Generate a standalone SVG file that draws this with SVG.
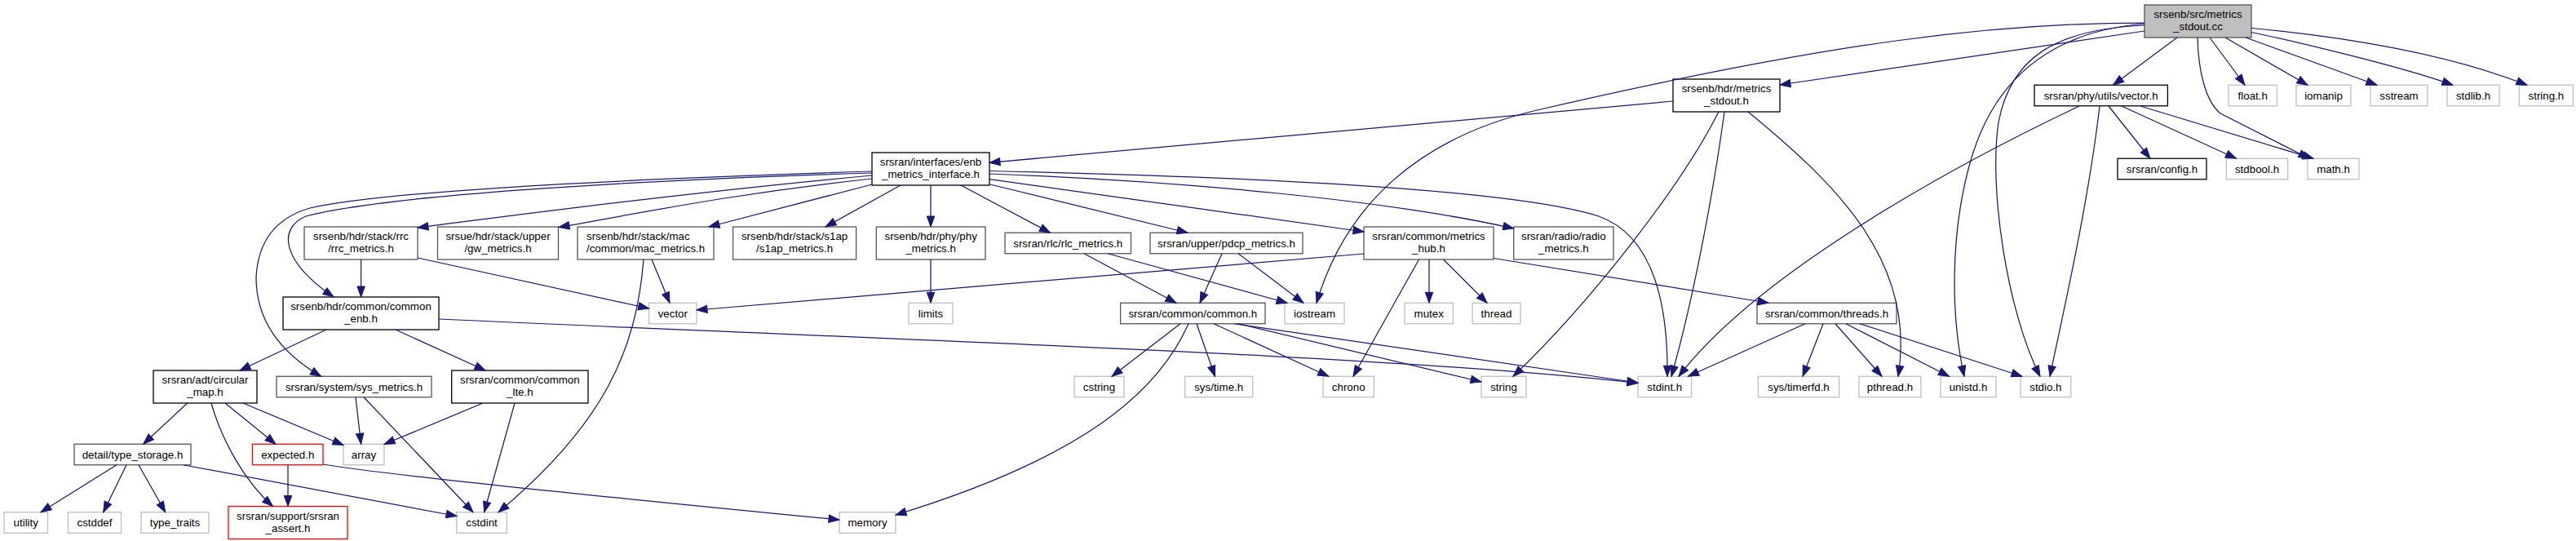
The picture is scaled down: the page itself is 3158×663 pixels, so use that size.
<svg xmlns="http://www.w3.org/2000/svg" width="3158" height="663" viewBox="0 0 3158 663">
<style>
rect{fill:#fff;stroke-width:1.3}
.k rect{stroke:#000}
.d rect{stroke:#555}
.x rect{stroke:#bfbfbf}
.r rect{stroke:#ff0000}
.m rect{fill:#bfbfbf;stroke:#555}
text{font-family:"Liberation Sans",Arial,Helvetica,sans-serif;font-size:13.33px;fill:#000;text-anchor:middle}
.l text{text-anchor:start}
#edges path{fill:none;stroke:#191970;stroke-width:1.25;marker-end:url(#a)}
</style>
<defs>
<marker id="a" markerUnits="userSpaceOnUse" markerWidth="14" markerHeight="10" refX="13" refY="4.7" orient="auto" style="overflow:visible">
<path d="M0,0 L13,4.7 L0,9.4 z" fill="#191970" stroke="#191970" stroke-width="1"/>
</marker>
</defs>
<rect x="0" y="0" width="3158" height="663" style="fill:#fff;stroke:none"/>

<g id="node-main" class="m"><rect x="2629" y="6" width="131" height="40"/><text x="2694.5" y="22">srsenb/src/metrics</text><text x="2694.5" y="37">_stdout.cc</text></g>
<g id="node-metrics_stdout_h" class="k"><rect x="2051" y="97" width="131" height="40"/><text x="2116.5" y="113">srsenb/hdr/metrics</text><text x="2116.5" y="128">_stdout.h</text></g>
<g id="node-vector_h" class="k"><rect x="2494" y="104.25" width="163.4" height="25.5"/><text x="2575.7" y="121.5">srsran/phy/utils/vector.h</text></g>
<g id="node-float_h" class="x"><rect x="2732" y="104.25" width="59.5" height="25.5"/><text x="2761.75" y="121.5">float.h</text></g>
<g id="node-iomanip" class="x"><rect x="2815" y="104.25" width="67" height="25.5"/><text x="2848.5" y="121.5">iomanip</text></g>
<g id="node-sstream" class="x"><rect x="2906" y="104.25" width="70" height="25.5"/><text x="2941" y="121.5">sstream</text></g>
<g id="node-stdlib_h" class="x"><rect x="3000" y="104.25" width="64" height="25.5"/><text x="3032" y="121.5">stdlib.h</text></g>
<g id="node-string_h" class="x"><rect x="3088.4" y="104.25" width="66" height="25.5"/><text x="3121.4" y="121.5">string.h</text></g>
<g id="node-config_h" class="k"><rect x="2596" y="194.25" width="109" height="25.5"/><text x="2650.5" y="211.5">srsran/config.h</text></g>
<g id="node-stdbool_h" class="x"><rect x="2729.3" y="194.25" width="75.4" height="25.5"/><text x="2767" y="211.5">stdbool.h</text></g>
<g id="node-math_h" class="x"><rect x="2829" y="194.25" width="63" height="25.5"/><text x="2860.5" y="211.5">math.h</text></g>
<g id="node-enb_metrics_interface" class="k"><rect x="1069" y="187" width="144" height="40"/><text x="1141" y="203">srsran/interfaces/enb</text><text x="1141" y="218">_metrics_interface.h</text></g>
<g id="node-rrc_metrics" class="d"><rect x="373" y="278" width="139" height="40"/><text x="442.5" y="294">srsenb/hdr/stack/rrc</text><text x="442.5" y="309">/rrc_metrics.h</text></g>
<g id="node-gw_metrics" class="d"><rect x="536.5" y="278" width="148" height="40"/><text x="610.5" y="294">srsue/hdr/stack/upper</text><text x="610.5" y="309">/gw_metrics.h</text></g>
<g id="node-mac_metrics" class="d l"><rect x="708" y="278" width="167" height="40"/><text x="719" y="294">srsenb/hdr/stack/mac</text><text x="719" y="309">/common/mac_metrics.h</text></g>
<g id="node-s1ap_metrics" class="d"><rect x="898.6" y="278" width="151" height="40"/><text x="974.1" y="294">srsenb/hdr/stack/s1ap</text><text x="974.1" y="309">/s1ap_metrics.h</text></g>
<g id="node-phy_metrics" class="d"><rect x="1074.3" y="278" width="133.7" height="40"/><text x="1141.15" y="294">srsenb/hdr/phy/phy</text><text x="1141.15" y="309">_metrics.h</text></g>
<g id="node-rlc_metrics" class="d"><rect x="1232" y="285.25" width="154.5" height="25.5"/><text x="1309.25" y="302.5">srsran/rlc/rlc_metrics.h</text></g>
<g id="node-pdcp_metrics" class="d"><rect x="1410" y="285.25" width="187" height="25.5"/><text x="1503.5" y="302.5">srsran/upper/pdcp_metrics.h</text></g>
<g id="node-metrics_hub" class="d"><rect x="1672" y="278" width="159" height="40"/><text x="1751.5" y="294">srsran/common/metrics</text><text x="1751.5" y="309">_hub.h</text></g>
<g id="node-radio_metrics" class="d"><rect x="1855.7" y="278" width="122.3" height="40"/><text x="1916.85" y="294">srsran/radio/radio</text><text x="1916.85" y="309">_metrics.h</text></g>
<g id="node-common_enb" class="k"><rect x="347" y="364" width="191" height="40"/><text x="442.5" y="380">srsenb/hdr/common/common</text><text x="442.5" y="395">_enb.h</text></g>
<g id="node-vector" class="x"><rect x="795.6" y="371.25" width="58.4" height="25.5"/><text x="824.8" y="388.5">vector</text></g>
<g id="node-limits" class="x"><rect x="1114" y="371.25" width="54" height="25.5"/><text x="1141" y="388.5">limits</text></g>
<g id="node-common_h" class="d"><rect x="1373.6" y="371.25" width="177.4" height="25.5"/><text x="1462.3" y="388.5">srsran/common/common.h</text></g>
<g id="node-iostream" class="x"><rect x="1575" y="371.25" width="73" height="25.5"/><text x="1611.5" y="388.5">iostream</text></g>
<g id="node-mutex" class="x"><rect x="1722" y="371.25" width="59.4" height="25.5"/><text x="1751.7" y="388.5">mutex</text></g>
<g id="node-thread" class="x"><rect x="1805" y="371.25" width="59" height="25.5"/><text x="1834.5" y="388.5">thread</text></g>
<g id="node-threads_h" class="d"><rect x="2154" y="371.25" width="171" height="25.5"/><text x="2239.5" y="388.5">srsran/common/threads.h</text></g>
<g id="node-circular_map" class="k"><rect x="188" y="454" width="127" height="40"/><text x="251.5" y="470">srsran/adt/circular</text><text x="251.5" y="485">_map.h</text></g>
<g id="node-sys_metrics" class="d"><rect x="339" y="461.25" width="190" height="25.5"/><text x="434" y="478.5">srsran/system/sys_metrics.h</text></g>
<g id="node-common_lte" class="k"><rect x="553.7" y="454" width="167.3" height="40"/><text x="637.35" y="470">srsran/common/common</text><text x="637.35" y="485">_lte.h</text></g>
<g id="node-cstring" class="x"><rect x="1317" y="461.25" width="61" height="25.5"/><text x="1347.5" y="478.5">cstring</text></g>
<g id="node-sys_time_h" class="x"><rect x="1452.7" y="461.25" width="83" height="25.5"/><text x="1494.2" y="478.5">sys/time.h</text></g>
<g id="node-chrono" class="x"><rect x="1622" y="461.25" width="62.4" height="25.5"/><text x="1653.2" y="478.5">chrono</text></g>
<g id="node-string" class="x"><rect x="1816" y="461.25" width="55" height="25.5"/><text x="1843.5" y="478.5">string</text></g>
<g id="node-stdint_h" class="x"><rect x="2008" y="461.25" width="65.6" height="25.5"/><text x="2040.8" y="478.5">stdint.h</text></g>
<g id="node-sys_timerfd_h" class="x"><rect x="2155.4" y="461.25" width="99.3" height="25.5"/><text x="2205" y="478.5">sys/timerfd.h</text></g>
<g id="node-pthread_h" class="x"><rect x="2279" y="461.25" width="76" height="25.5"/><text x="2317" y="478.5">pthread.h</text></g>
<g id="node-unistd_h" class="x"><rect x="2379" y="461.25" width="68" height="25.5"/><text x="2413" y="478.5">unistd.h</text></g>
<g id="node-stdio_h" class="x"><rect x="2477" y="461.25" width="61.8" height="25.5"/><text x="2507.9" y="478.5">stdio.h</text></g>
<g id="node-type_storage" class="d"><rect x="91" y="544.25" width="143" height="25.5"/><text x="162.5" y="561.5">detail/type_storage.h</text></g>
<g id="node-expected_h" class="r"><rect x="309.5" y="544.25" width="86.5" height="25.5"/><text x="352.75" y="561.5">expected.h</text></g>
<g id="node-array" class="x"><rect x="421" y="544.25" width="50" height="25.5"/><text x="446" y="561.5">array</text></g>
<g id="node-utility" class="x"><rect x="5" y="627.75" width="53.5" height="25.5"/><text x="31.75" y="645">utility</text></g>
<g id="node-cstddef" class="x"><rect x="83.5" y="627.75" width="65" height="25.5"/><text x="116" y="645">cstddef</text></g>
<g id="node-type_traits" class="x"><rect x="173" y="627.75" width="83" height="25.5"/><text x="214.5" y="645">type_traits</text></g>
<g id="node-srsran_assert" class="r"><rect x="280" y="620.5" width="146" height="40"/><text x="353" y="636.5">srsran/support/srsran</text><text x="353" y="651.5">_assert.h</text></g>
<g id="node-cstdint" class="x"><rect x="559.8" y="627.75" width="61.5" height="25.5"/><text x="590.5" y="645">cstdint</text></g>
<g id="node-memory" class="x"><rect x="1029" y="627.75" width="69" height="25.5"/><text x="1063.5" y="645">memory</text></g>

<g id="edges">
<path d="M2629,38 L2182,104"/>
<path d="M2629,28 C2450,28 2250,50 1880,136 C1740,170 1650,250 1614,371.25"/>
<path d="M2629,29 C2500,40 2440,110 2415,200 C2390,290 2392,390 2408,461.25"/>
<path d="M2629,31 C2520,36 2465,70 2450,150 C2438,230 2460,380 2501,461.25"/>
<path d="M2669,46 L2590.5,104.25"/>
<path d="M2709,46 L2752,104.25"/>
<path d="M2728,46 L2829,104.25"/>
<path d="M2753,46 L2914,104.25"/>
<path d="M2760,39.5 C2800,48 2940,80 3007,104.25"/>
<path d="M2760,34.5 C2860,44 2990,62 3098,104.25"/>
<path d="M2694,46 C2695,90 2705,125 2722,139 L2831,194.25"/>
<path d="M2585,130 L2636,194.25"/>
<path d="M2601,130 L2741.5,194.25"/>
<path d="M2624,130 L2836,194.25"/>
<path d="M2549,130 C2380,210 2150,340 2058,461.25"/>
<path d="M2574,130 C2560,250 2530,380 2513,461.25"/>
<path d="M2051,124 L1213,199.3"/>
<path d="M2107,137 C2060,230 1950,370 1855,461.25"/>
<path d="M2114,137 C2100,240 2075,370 2049,461.25"/>
<path d="M2143,137 C2250,225 2350,320 2327,461.25"/>
<path d="M1213,209.5 C1500,216 1850,230 1960,265 C2030,290 2045,380 2044,461.25"/>
<path d="M1213,213 C1450,222 1700,245 1855.7,280"/>
<path d="M1213,219.6 L1672,284"/>
<path d="M1214,226 L1456,285.25"/>
<path d="M1178,227 L1287.5,285.25"/>
<path d="M1141,227 L1141,278"/>
<path d="M1104,227 L1012,278"/>
<path d="M1069,226 L869,278"/>
<path d="M1069,219 C900,237 780,262 685,278.5"/>
<path d="M1069,215 C800,240 600,268 512,279"/>
<path d="M1069,212 C750,222 470,240 375,265 C340,280 345,320 409,364"/>
<path d="M1069,210 C750,220 470,235 380,255 C335,268 316,300 314,340 C314,390 340,430 393.6,461.25"/>
<path d="M442.6,318 L442.6,364"/>
<path d="M512,316 L795.6,378"/>
<path d="M799,318 L821,371.25"/>
<path d="M789,318 C780,430 740,520 611,627.75"/>
<path d="M1672,311 L854,380"/>
<path d="M1739.5,318 L1659,461.25"/>
<path d="M1752,318 L1752,371.25"/>
<path d="M1769.5,318 L1823,371.25"/>
<path d="M1831,316.5 L2168,371.25"/>
<path d="M400,404 L294,454"/>
<path d="M485,404 L595,454"/>
<path d="M538,391 C1100,417 1700,435 2008,469.5"/>
<path d="M229.7,494 L175.7,544.25"/>
<path d="M259,494 C272,540 300,590 334.5,620.5"/>
<path d="M276,494 L338,544.25"/>
<path d="M298,494 L421,545.5"/>
<path d="M436,486.75 L442.6,544.25"/>
<path d="M446,486.75 L580,627.75"/>
<path d="M592,494 L471,544.5"/>
<path d="M631,494 L593.6,627.75"/>
<path d="M143,569.75 L50,627.75"/>
<path d="M155,569.75 L126.7,627.75"/>
<path d="M170,569.75 L202.7,627.75"/>
<path d="M224.7,569.75 L560,632.5"/>
<path d="M353,569.75 L353,620.5"/>
<path d="M396,569 C460,580 700,605 1029,637"/>
<path d="M1141,318 L1141,371.25"/>
<path d="M1329,310.75 L1442,371.25"/>
<path d="M1358,310.75 L1578,371.25"/>
<path d="M1498,310.75 L1471,371.25"/>
<path d="M1518,310.75 L1598,371.25"/>
<path d="M1447,396.75 L1363,461.25"/>
<path d="M1457,396.75 C1420,480 1330,560 1098,631"/>
<path d="M1467,396.75 L1489.5,461.25"/>
<path d="M1488,396.75 L1628.7,461.25"/>
<path d="M1518,396.75 L1816,468"/>
<path d="M1513,396.75 L2008,469"/>
<path d="M2213,396.75 L2069.5,461.25"/>
<path d="M2235,396.75 L2210,461.25"/>
<path d="M2250,396.75 L2307,461.25"/>
<path d="M2263,396.75 L2389.5,461.25"/>
<path d="M2280,396.75 L2479,461.25"/>
</g>
</svg>
